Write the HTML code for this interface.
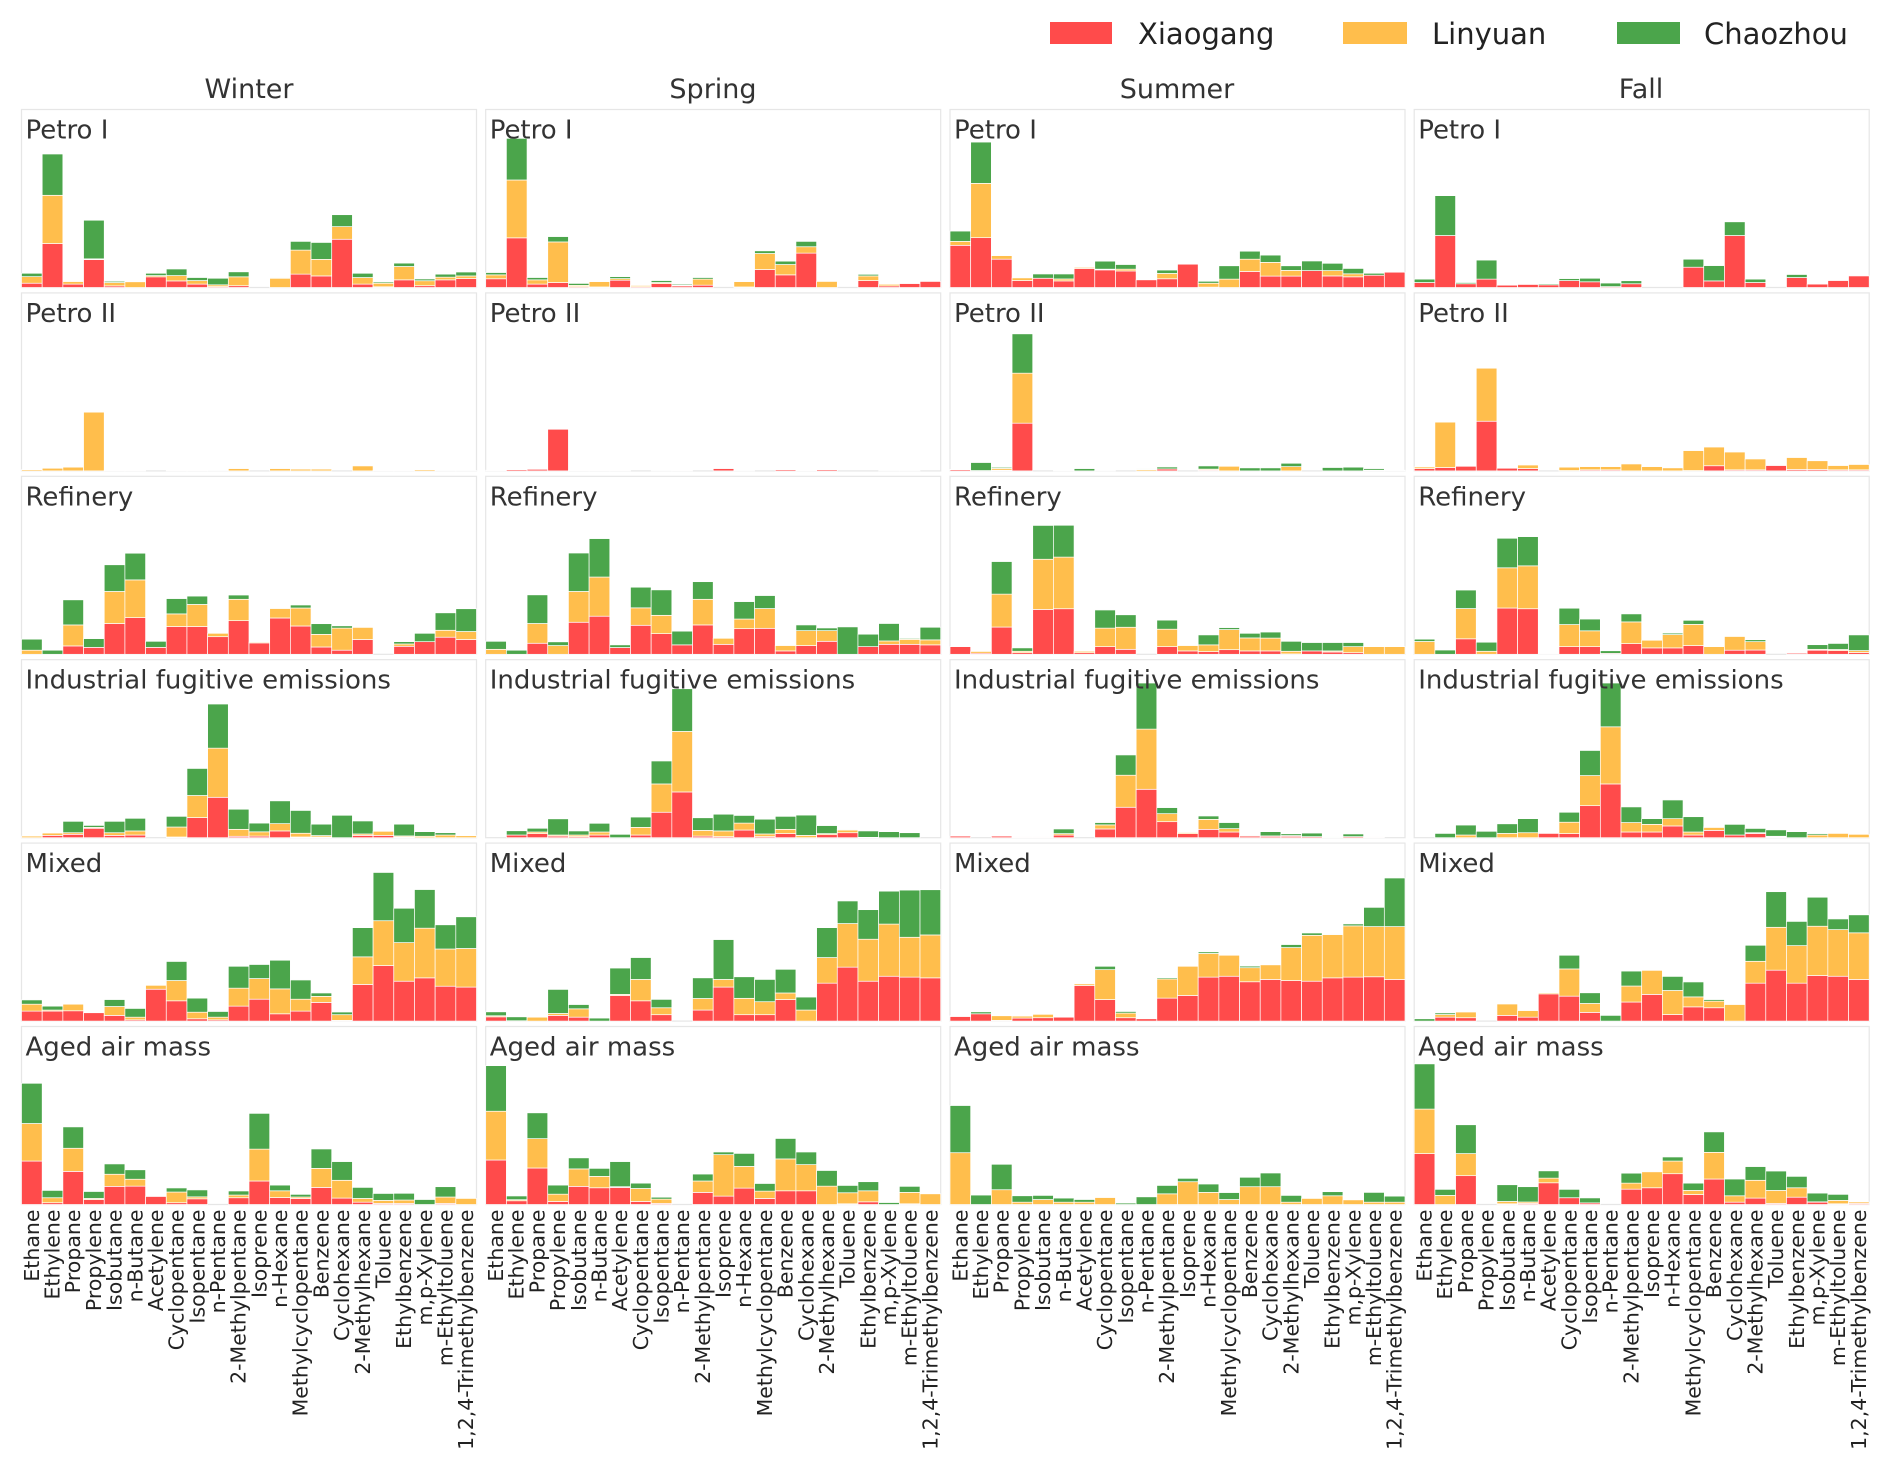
<!DOCTYPE html>
<html><head><meta charset="utf-8"><style>
html,body{margin:0;padding:0;background:#fff}
svg{display:block;font-family:"DejaVu Sans","Liberation Sans",Arial,sans-serif}
</style></head><body>
<svg id="chart" width="1892" height="1473" viewBox="0 0 1892 1473" xmlns="http://www.w3.org/2000/svg">
<rect x="0" y="0" width="1892" height="1473" fill="#fff"/>
<g>
<rect x="1050" y="22" width="62" height="22" fill="#FF4B4B"/>
<text x="1138" y="44" font-size="29" fill="#222">Xiaogang</text>
<rect x="1343" y="22" width="64" height="22" fill="#FFBE4C"/>
<text x="1432" y="44" font-size="29" fill="#222">Linyuan</text>
<rect x="1617" y="22" width="63" height="22" fill="#4BA54B"/>
<text x="1704" y="44" font-size="29" fill="#222">Chaozhou</text>
</g>
<g font-size="27" fill="#333" text-anchor="middle">
<text x="249" y="98">Winter</text>
<text x="713" y="98">Spring</text>
<text x="1177" y="98">Summer</text>
<text x="1641" y="98">Fall</text>
</g>
<g id="panels"></g>
</svg>
<script>
const categories = ["Ethane","Ethylene","Propane","Propylene","Isobutane","n-Butane","Acetylene","Cyclopentane","Isopentane","n-Pentane","2-Methylpentane","Isoprene","n-Hexane","Methylcyclopentane","Benzene","Cyclohexane","2-Methylhexane","Toluene","Ethylbenzene","m,p-Xylene","m-Ethyltoluene","1,2,4-Trimethylbenzene"];
const seasons = ["Winter","Spring","Summer","Fall"];
const sources = ["Petro I","Petro II","Refinery","Industrial fugitive emissions","Mixed","Aged air mass"];
const siteNames = ["Xiaogang","Linyuan","Chaozhou"];

// Petro I
const winterPetroI_X = [2.4,24.7,1.9,15.7,0.9,0,6,3.7,1.9,0.5,1,0,0,7.5,6.5,27.1,1.9,0.4,4.3,1,4.3,5];
const winterPetroI_L = [3.7,27.1,1.5,0.4,1.9,3.2,0.7,3,2,1,5,0,5.2,13.5,9.3,7.1,3.7,2,7.5,2.8,1.5,1.5];
const winterPetroI_C = [1.9,23.2,0.3,21.7,0.7,0,1.3,3.7,1.7,3.7,2.8,0,0.4,4.9,9.5,6.7,2.4,0.7,1.9,1,1.7,2.2];
const springPetroI_X = [4.9,27.9,1.9,2.8,0.5,0.3,4.1,0.5,2.2,0.9,1.3,0,0.3,10.1,7.1,19.3,0,0,3.9,0.9,2.2,3.4];
const springPetroI_L = [2.2,32.5,2.4,22.8,0.7,3,0.9,0.7,0.6,0.4,3.4,0,3,9,5.8,3.6,3.4,0,2.6,0.9,0,0];
const springPetroI_C = [1.3,23.4,1.3,3,1.1,0,1.1,0.2,1.1,0.6,0.9,0,0.2,1.5,1.9,3,0,0,0.9,0,0,0];
const summerPetroI_X = [23.7,28,15.9,3.9,5.2,3.7,10.7,9.9,9.3,4.3,4.9,13.1,0.2,0,9,6.4,6.4,9.5,6.5,6,6.9,8.6];
const summerPetroI_L = [2.2,30.5,2,1.5,0,1.1,0.6,0.4,1,0,3,0,2.2,4.7,6.9,7.7,3.2,0,3,1.7,0,0];
const summerPetroI_C = [5.8,23.2,0,0,2.4,2.8,0,4.5,2.6,0,1.9,0,1.1,7.5,4.5,4.1,2.6,5.4,4.1,3,1.1,0];
const fallPetroI_X = [2.8,29.2,2.1,4.7,1.3,1.7,1.5,3.9,3.2,0.5,2.1,0,0,11.4,3.7,29.2,2.8,0,5.6,1.9,3.9,6.5];
const fallPetroI_L = [0,0,0,0,0,0,0,0,0,0,0,0,0,0,0,0,0,0,0,0,0,0];
const fallPetroI_C = [1.9,22.4,0.7,10.7,0,0,0.6,1.1,2,2,1.7,0,0,4.5,8.6,7.7,1.9,0,1.7,0,0,0];
// Petro II
const winterPetroII_X = [0,0,0,0,0,0,0,0,0,0,0,0,0,0,0,0,0,0,0,0,0,0];
const winterPetroII_L = [0.7,1.5,2.1,33,0.4,0.4,0,0.4,0.4,0.2,1.3,0,1.3,1,1,0,2.8,0.4,0.4,0.7,0.2,0.2];
const winterPetroII_C = [0,0,0,0,0,0,0,0,0,0,0,0,0,0,0,0,0,0,0,0,0,0];
const springPetroII_X = [0.4,0.7,0.9,23.4,0.4,0.4,0.4,0,0.2,0.4,0,1.3,0.2,0,0.7,0.4,0.7,0,0,0.2,0.2,0];
const springPetroII_L = [0,0,0,0,0,0,0,0,0,0,0,0,0,0,0,0,0,0,0,0,0,0];
const springPetroII_C = [0,0,0,0,0,0,0,0,0,0,0,0,0,0,0,0,0,0,0,0,0,0];
const summerPetroII_X = [0.7,0.2,0.4,26.8,0,0,0,0,0,0,1.1,0,0.5,0,0,0,0,0,0,0,0.4,0];
const summerPetroII_L = [0.2,0,1,28.1,0,0,0,0,0,0.7,0,0,0.5,2.6,0,0,2.4,0,0,0,0,0];
const summerPetroII_C = [0,4.5,0.6,22.1,0,0.4,1.3,0.2,0,0.4,1.1,0,1.8,0,1.7,1.7,1.9,0,1.9,2.1,0.9,0.4];
const fallPetroII_X = [1.3,1.9,2.6,27.9,1.5,1.3,0,0.2,0.6,0.6,0,0,0,0.2,2.9,0.6,0.6,3,0.8,0.8,0.6,0.6];
const fallPetroII_L = [0.9,25.5,0,29.8,0,2,0,1.9,1.8,1.8,3.9,2.4,1.7,11.2,10.5,10,6.1,0,6.7,4.9,2.4,3];
const fallPetroII_C = [0,0,0,0,0,0,0,0,0,0,0,0,0,0,0,0,0,0,0,0,0,0];
// Refinery
const winterRefinery_X = [0,0,4.7,3.9,17.3,20.6,3.9,15.6,15.6,9.9,18.9,6.4,20.4,15.9,4.1,2.3,8.3,0,4.5,7.1,9.6,8.3];
const winterRefinery_L = [2.3,0,11.8,0,18,21.2,0,7.1,12.4,1.9,12,0.5,5.3,10.1,7.1,12.4,6.8,0,1.3,0,3.9,4.5];
const winterRefinery_C = [6.2,2.3,14.1,4.9,15,15,3.4,8.6,4.7,0,2.4,0,0,1.7,6,1.3,0,0,1.3,4.7,9.8,12.8];
const springRefinery_X = [0,0,6.2,0,18,21.4,3.8,16.3,11.6,5.3,16.5,5.6,14.4,14.6,1.9,4.9,7.3,0,4.3,5.6,5.6,5.3];
const springRefinery_L = [2.8,0,11.1,4.9,17.3,22,0,9.8,10.3,0,14.4,3.4,5.4,11.1,3,8.4,6,0,0,1.9,2.8,2.8];
const springRefinery_C = [4.5,2.3,16.1,2.1,21.6,21.6,1.5,11.6,14.3,7.7,9.9,0,9.8,7.3,0,3.2,1.5,15.4,7,9.8,0.5,7.1];
const summerRefinery_X = [4.3,0.6,15.3,0.9,25.2,25.6,0.9,4.3,2.8,0,4.3,1.9,1.5,2.6,1.9,1.9,0.2,1.9,1.3,0.9,0,0];
const summerRefinery_L = [0,1,18.5,0.8,28.2,29,0.8,10.4,12.4,0,9.8,3,3.8,11.3,7.3,7.2,1.5,0,0.6,3.4,4.3,4.3];
const summerRefinery_C = [0,0,18.3,1.9,19,17.9,0,10.2,7,0,5.1,0,5.6,1.1,2.6,3.4,5.6,4.7,4.7,2.3,0,0];
const fallRefinery_X = [0,0,8.7,0,26,25.6,0.4,4.3,4.3,0.5,6,3.6,3.6,4.9,0,2.3,2.4,0,0.6,2.3,2.1,1];
const fallRefinery_L = [7.2,0,17,1.7,22.6,24.1,0,12.4,8.9,0,12.2,4.3,7.5,11.9,4.3,7.7,4.7,0,0,0.5,0.6,1.1];
const fallRefinery_C = [1.3,2.4,10.4,5.1,16.6,16.4,0,9.2,6.6,1.5,4.5,0,0.8,2.3,0,0,1.1,0,0,2.6,3.4,8.8];
// Industrial fugitive emissions
const winterIFE_X = [0,1.3,1.9,5.3,1.3,1.5,0,0.4,11.3,22.7,0.8,0.9,3.8,0.4,0.4,0,1.3,1.3,0.4,0,0,0];
const winterIFE_L = [0.9,1.3,0.9,0.5,1.5,2.3,0,5.6,12.4,27.6,3.9,2.4,4.1,2.1,0.8,0,0.8,2.3,0.6,0.8,1.5,1.1];
const winterIFE_C = [0,0,6.4,1.1,6.4,7.1,0,6,15.2,24.8,11.3,4.9,12.8,12.8,6.4,12.6,7.3,0,6.6,2.6,1.3,0];
const springIFE_X = [0,1.5,2.3,0.9,0.6,1.5,0,1.5,14.3,25.7,0.9,0.6,4.3,0.6,2.3,0,1.7,2.8,0.2,0,0,0];
const springIFE_L = [0,0,0.9,0.6,0.9,1.7,0,4.3,15.9,34,3.2,3.2,3.9,1.5,2.4,1.3,0.6,1.5,0,0,0,0];
const springIFE_C = [0,2.4,2.1,9.1,2.3,4.9,1.9,5.8,12.9,24,7.1,9.4,4.3,8.3,7.3,11.4,4.5,0.4,3.6,3.4,2.8,0];
const summerIFE_X = [0.9,0,0.9,0.4,0.4,1.5,0,4.9,17.1,27.2,9,2.3,4.7,3.2,0.9,0.8,0.8,0.6,0,0.6,0.4,0];
const summerIFE_L = [0,0,0,0,0,0.8,0,2.3,18,33.8,4.5,0.6,5.6,1.9,0,0.2,0.4,0,0,0,0,0];
const summerIFE_C = [0,0,0,0,0,2.6,0,1.3,11.4,25.9,3.4,0,1.9,3.4,0.4,2.4,1,2,0.4,1.5,0,0];
const fallIFE_X = [0,0,0,0,0,0,2.4,2.3,18,30.2,3.2,3.2,6.6,1.5,4.1,1.5,2.4,0.4,0,0,0,0];
const fallIFE_L = [0,0,1.5,0,2.4,2.8,0,6.4,16.9,32.1,5.3,4.3,4.1,1.7,1.7,0,0.4,0.4,0,1.5,2.4,1.9];
const fallIFE_C = [0,2.4,5.6,3.6,5.4,7.9,0,5.6,14.1,24.6,8.8,3.2,10.5,8.6,0.4,6,2.4,3.6,3.4,0.8,0,0];
// Mixed
const winterMixed_X = [5.6,5.6,5.8,4.7,3.2,0.7,17.9,11.4,1.3,0.7,8.4,12.3,4.1,5.6,10.5,0.4,20.6,31.2,22.4,24.3,19.6,19.1];
const winterMixed_L = [3.9,0.6,3.7,0,5,1.5,2.2,11.4,3.7,1.5,10.1,11.6,14,6.7,3.4,3.2,15.5,25.2,21.7,27.9,20.9,21.7];
const winterMixed_C = [2.4,2.2,0,0,3.9,4.9,0,10.7,7.9,3.2,12.3,7.9,16.1,10.8,1.9,1.5,16.4,27.1,19.3,21.7,13.6,17.8];
const springMixed_X = [2.4,0.2,0,3.2,2.2,0,14.4,11.4,3.6,0,6.2,19.1,3.6,3.6,12.1,0,21.3,30.3,22.4,25.2,24.7,24.3];
const springMixed_L = [0.6,0,2.2,1.1,4.7,0,0.6,12,3.9,0,6.5,4.3,9.2,7.3,3.7,6.2,14.4,24.5,23.6,29.3,22.4,24.1];
const springMixed_C = [2.2,2.2,0,13.5,2.4,1.7,14.8,12.3,4.7,0,11.6,22.4,12.1,12.5,13.3,7.3,16.8,12.7,16.6,18.5,26.5,25.4];
const summerMixed_X = [2.6,4.1,0.4,1.7,1.9,2.2,20,12.1,1.9,1.3,12.9,14.4,24.7,25.2,22.1,23.4,22.8,22.4,24.3,24.7,24.9,23.4];
const summerMixed_L = [0.4,0,2.6,1.1,1.9,0,0.9,16.8,2.6,0,10.8,16.4,13.3,11.8,7.9,8.2,18.5,25.8,24.3,28.8,28.2,29.7];
const summerMixed_C = [0,1.1,0,0,0,0,0,1.9,0.9,0,0.7,0,0.9,0,0.9,0,1.7,1.3,0.4,1.1,10.8,27.3];
const fallMixed_X = [0,2.2,1.9,0,3.2,2.2,15.3,14,4.9,0,10.7,15,3.7,8,7.5,0,21.3,28.6,21.3,25.6,25.2,23.4];
const fallMixed_L = [0,1.5,3.2,0,6.4,3.7,0.6,15.3,5,0,9,13.5,13.5,5.6,3.7,9.3,12.3,24.1,21.1,27.7,26.2,26.2];
const fallMixed_C = [1.3,0.9,0,0,0,0,0,7.7,6,3.2,8.4,0,7.9,8.4,0.9,0,9,20,13.6,16.3,6,10.1];
// Aged air mass
const winterAged_X = [24.4,1,18.6,2.8,10.2,10.3,4.5,1,3.2,0,3.8,13.2,3.9,3.4,9.6,3.6,1.3,0.6,0.6,0,0.6,0];
const winterAged_L = [21.1,2.8,13,0.6,6.8,3.9,0,6,1.1,0,1.5,17.9,3.8,0.8,10.7,10,2.1,1.7,1.9,0,3.6,3.4];
const winterAged_C = [22.6,4.1,12,3.9,5.8,5.3,0,2.3,3.9,0,2.3,20.1,3.2,1.5,10.9,10.5,6.2,3.9,3.8,2.8,5.8,0];
const springAged_X = [25,2.1,20.5,1.7,10.2,9.4,9.6,1.7,0.6,0,6.8,4.7,9.2,3.4,7.7,7.7,0,0.4,1.5,0,0.4,0];
const springAged_L = [27.4,0.6,16.5,4.1,9.8,6.4,0.4,7.3,2.4,0,6.4,23.3,12.2,4.1,17.9,14.7,10.3,6.2,6.2,0,6.4,6];
const springAged_C = [25.6,2.1,14.5,5.1,6.2,4.5,14.1,3,1.1,0,3.9,1.5,7.3,4.3,11.5,7.1,8.8,4.1,5.1,1.1,3.4,0];
const summerAged_X = [0,0,0,0,0,0,0,0,0,0,0,0,0,0,0,0,0,0,0,0,0,0];
const summerAged_L = [29.1,0,8.3,1.3,2.8,1.3,1.3,3.9,0,0,6,12.8,6.8,2.8,10,10,1.3,3.4,4.9,2.6,1.3,1.3];
const summerAged_C = [26.5,5.3,14.3,3.6,2.3,2.3,1.5,0,0.8,4.3,4.7,1.9,4.7,3.9,5.3,7.7,3.8,0,2.3,0,5.5,3.4];
const fallAged_X = [28.6,0,16.2,0,0.4,0.6,12.2,3.8,0.9,0,8.6,9.4,17.3,5.6,14.3,1.3,3.6,0.6,4.1,1.3,0.4,0.6];
const fallAged_L = [25,5.1,12.4,0,1.3,0.8,2.6,0,0,0,3.4,9,7.1,2.3,15,3.6,10,7.3,5.3,0.2,1.9,0.8];
const fallAged_C = [25.4,3.4,16.2,0,9.4,8.6,4.1,4.7,2.8,0,5.6,0.4,2.3,4.1,11.5,9.4,7.7,10.9,6.4,4.9,3.4,0];

const yMax = 100;

const panelData = [
 [[winterPetroI_X,winterPetroI_L,winterPetroI_C],[springPetroI_X,springPetroI_L,springPetroI_C],[summerPetroI_X,summerPetroI_L,summerPetroI_C],[fallPetroI_X,fallPetroI_L,fallPetroI_C]],
 [[winterPetroII_X,winterPetroII_L,winterPetroII_C],[springPetroII_X,springPetroII_L,springPetroII_C],[summerPetroII_X,summerPetroII_L,summerPetroII_C],[fallPetroII_X,fallPetroII_L,fallPetroII_C]],
 [[winterRefinery_X,winterRefinery_L,winterRefinery_C],[springRefinery_X,springRefinery_L,springRefinery_C],[summerRefinery_X,summerRefinery_L,summerRefinery_C],[fallRefinery_X,fallRefinery_L,fallRefinery_C]],
 [[winterIFE_X,winterIFE_L,winterIFE_C],[springIFE_X,springIFE_L,springIFE_C],[summerIFE_X,summerIFE_L,summerIFE_C],[fallIFE_X,fallIFE_L,fallIFE_C]],
 [[winterMixed_X,winterMixed_L,winterMixed_C],[springMixed_X,springMixed_L,springMixed_C],[summerMixed_X,summerMixed_L,summerMixed_C],[fallMixed_X,fallMixed_L,fallMixed_C]],
 [[winterAged_X,winterAged_L,winterAged_C],[springAged_X,springAged_L,springAged_C],[summerAged_X,summerAged_L,summerAged_C],[fallAged_X,fallAged_L,fallAged_C]]
];

const NS = "http://www.w3.org/2000/svg";
const colors = ["#FF4B4B","#FFBE4C","#4BA54B"];
const colLeft = [21.5, 485.7, 950, 1414.2];
const panelW = 455, panelH = 178, rowTop0 = 109.5, rowPitch = 183.4;
const root = document.getElementById("panels");

function xBand(col, i){ return colLeft[col] + i * panelW / categories.length; }
function yScale(row, v){ return rowTop0 + row*rowPitch + panelH - v / yMax * panelH; }
function mk(tag, attrs){ const e = document.createElementNS(NS, tag); for (const k in attrs) e.setAttribute(k, attrs[k]); return e; }

for (let r = 0; r < sources.length; r++) {
  for (let c = 0; c < seasons.length; c++) {
    const g = mk("g", {});
    
    
    const top = rowTop0 + r*rowPitch;
    const frame = mk("rect", {x: colLeft[c], y: top, width: panelW, height: panelH, fill: "#fff", stroke: "#e6e6e6", "stroke-width": 1.2});
    
    
    g.appendChild(frame);
    const series = panelData[r][c];
    const bw = panelW / categories.length;
    for (let i = 0; i < categories.length; i++) {
      let base = 0;
      for (let s = 0; s < 3; s++) {
        const v = series[s][i];
        if (v > 0) {
          const y1 = yScale(r, base + v), y0 = yScale(r, base);
          const b = mk("rect", {x: xBand(c, i), y: y1, width: bw, height: y0 - y1, fill: colors[s], stroke: "#fff", "stroke-width": 0.7});
          
          
          g.appendChild(b);
        }
        base += v;
      }
    }
    const t = mk("text", {x: colLeft[c] + 4, y: top + 29, "font-size": 26, fill: "#333"});
    t.textContent = sources[r];
    
    
    g.appendChild(t);
    root.appendChild(g);
  }
}
// x-axis labels
const labelY = rowTop0 + 5*rowPitch + panelH + 5;
for (let c = 0; c < seasons.length; c++) {
  const bw = panelW / categories.length;
  for (let i = 0; i < categories.length; i++) {
    const x = xBand(c, i) + bw/2;
    const t = mk("text", {x: x, y: labelY, transform: "rotate(-90 " + x + " " + labelY + ")", "text-anchor": "end", "dominant-baseline": "central", "font-size": 20.5, fill: "#222"});
    t.textContent = categories[i];
    
    
    root.appendChild(t);
  }
}
</script>
</body></html>
